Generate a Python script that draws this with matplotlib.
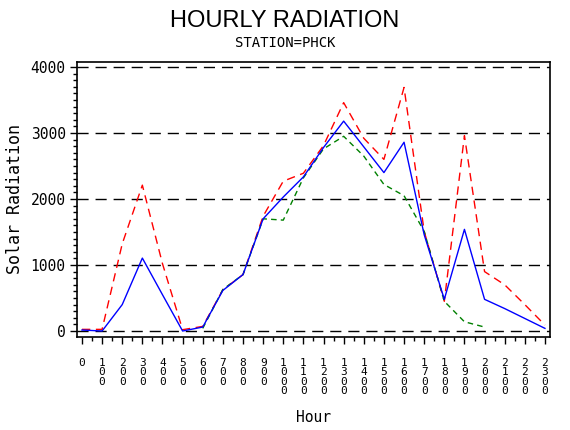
import numpy as np
import matplotlib
matplotlib.use('Agg')
import matplotlib.pyplot as plt
from matplotlib.ticker import MultipleLocator

hours = list(range(24))
hour_labels = ['0', '100', '200', '300', '400', '500', '600', '700', '800', '900',
               '1000', '1100', '1200', '1300', '1400', '1500', '1600', '1700',
               '1800', '1900', '2000', '2100', '2200', '2300']

# mean (blue), max (red), min (green)
mean_rad = [15, 0, 400, 1105, 550, 0, 60, 615, 855, 1700, 2030, 2335,
            2780, 3180, 2790, 2400, 2860, 1460, 480, 1540, 480, 340, 190, 40]
max_rad = [25, 25, 1320, 2210, 1020, 20, 70, 625, 855, 1740, 2270, 2390,
           2810, 3460, 2920, 2600, 3690, 1510, 450, 2960, 900, 700, 400, 90]
min_rad = [np.nan] * 6 + [40, 630, 855, 1700, 1680, 2320,
                          2760, 2950, 2650, 2220, 2050, 1510, 450, 140, 60] + [np.nan] * 3

mono = 'DejaVu Sans Mono'

fig = plt.figure(figsize=(5.7, 4.3), dpi=100)
ax = fig.add_axes([0.1346, 0.217, 0.8303, 0.6395])

for y in [0, 1000, 2000, 3000, 4000]:
    ax.axhline(y, color='black', lw=1, dashes=(8, 5), zorder=1)

ax.plot(hours, max_rad, color='red', lw=1, dashes=(6, 4), zorder=2)
ax.plot(hours, min_rad, color='green', lw=1, dashes=(4, 3), zorder=3)
ax.plot(hours, mean_rad, color='blue', lw=1, zorder=4)

ax.set_xlim(-0.26, 23.25)
ax.set_ylim(-86, 4080)

ax.set_xticks(hours)
ax.set_xticklabels(['\n'.join(s) for s in hour_labels], family=mono,
                   fontsize=8, linespacing=0.95, va='top')
ax.xaxis.set_minor_locator(MultipleLocator(0.5))
ax.set_yticks([0, 1000, 2000, 3000, 4000])
ax.set_yticklabels(['0', '1000', '2000', '3000', '4000'], family=mono, fontsize=10.5)
ax.yaxis.set_minor_locator(MultipleLocator(100))

ax.tick_params(axis='x', which='major', length=5, width=1, pad=10)
ax.tick_params(axis='x', which='minor', length=3, width=1)
ax.tick_params(axis='y', which='major', length=5, width=1, pad=3)
ax.tick_params(axis='y', which='minor', length=3, width=1)
for sp in ax.spines.values():
    sp.set_linewidth(1.2)

ax.set_xlabel('Hour', family=mono, fontsize=10.5, labelpad=10)
ax.set_ylabel('Solar Radiation', family=mono, fontsize=12, labelpad=5)

fig.text(0.5, 0.951, 'HOURLY RADIATION', ha='center', va='center',
         family='Liberation Sans', fontsize=17)
fig.text(0.5, 0.9, 'STATION=PHCK', ha='center', va='center',
         family=mono, fontsize=10)

fig.savefig('out.png', dpi=100)
